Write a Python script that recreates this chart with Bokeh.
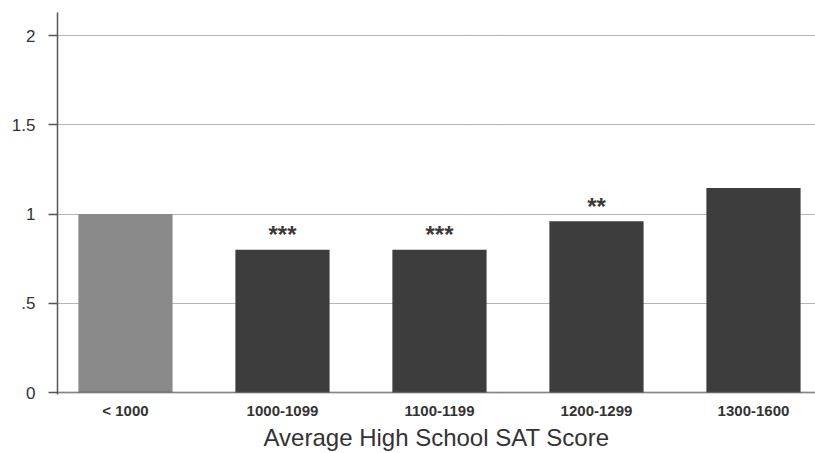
from bokeh.plotting import figure
from bokeh.models import ColumnDataSource, FixedTicker, CustomJSTickFormatter, Span, Range1d
from bokeh.core.properties import value
from bokeh.embed import file_html
from bokeh.resources import INLINE

categories = ["< 1000", "1000-1099", "1100-1199", "1200-1299", "1300-1600"]
values = [1.0, 0.80, 0.80, 0.96, 1.146]
stars = ["", "***", "***", "**", ""]
colors = ["#8a8a8a", "#3d3d3d", "#3d3d3d", "#3d3d3d", "#3d3d3d"]
y_ticks = [0, 0.5, 1, 1.5, 2]

idx = list(range(len(categories)))
src = ColumnDataSource(dict(x=idx, top=values, stars=stars, color=colors))

p = figure(width=815, height=453, output_backend="svg", toolbar_location=None,
           x_range=Range1d(-0.433, 4.395), y_range=Range1d(-0.011, 2.129),
           min_border_left=57, min_border_right=0, min_border_top=12, min_border_bottom=10)
p.outline_line_color = None
p.background_fill_color = "white"

p.vbar(x="x", top="top", bottom=0, width=0.6, fill_color="color", line_color=None, source=src)
p.text(x="x", y="top", text="stars", source=src, text_align="center", text_baseline="alphabetic",
       y_offset=-15, text_font=value("Liberation Sans"), text_font_style="bold",
       text_font_size="24px", text_color="#3a3a3a")

# grid
p.xgrid.grid_line_color = None
p.ygrid.ticker = FixedTicker(ticks=y_ticks)
p.ygrid.grid_line_color = "#6a6a6a"
p.ygrid.grid_line_dash = "1 1"
p.ygrid.grid_line_width = 1

p.add_layout(Span(location=0, dimension="width", line_color="#555555", line_dash="1 1", line_width=2))

# y axis
p.yaxis.ticker = FixedTicker(ticks=y_ticks)
p.yaxis.formatter = CustomJSTickFormatter(code="""
    if (tick == 0) return "0";
    var s = String(tick);
    if (s.startsWith("0.")) s = s.substring(1);
    return s;
""")
p.yaxis.axis_line_color = "#555555"
p.yaxis.axis_line_width = 1.5
p.yaxis.major_tick_line_color = "#555555"
p.yaxis.major_tick_line_width = 1.5
p.yaxis.major_tick_out = 9
p.yaxis.major_tick_in = 0
p.yaxis.minor_tick_line_color = None
p.yaxis.major_label_text_font = "Liberation Sans"
p.yaxis.major_label_text_font_size = "17px"
p.yaxis.major_label_text_color = "#333333"
p.yaxis.major_label_standoff = 13

# x axis
p.xaxis.ticker = FixedTicker(ticks=idx)
p.xaxis.major_label_overrides = {i: c for i, c in zip(idx, categories)}
p.xaxis.axis_line_color = None
p.xaxis.major_tick_line_color = None
p.xaxis.minor_tick_line_color = None
p.xaxis.major_label_text_font = "Liberation Sans"
p.xaxis.major_label_text_font_style = "bold"
p.xaxis.major_label_text_font_size = "15px"
p.xaxis.major_label_text_color = "#333333"
p.xaxis.major_label_standoff = 1
p.xaxis.axis_label = "Average High School SAT Score"
p.xaxis.axis_label_text_font = "Liberation Sans"
p.xaxis.axis_label_text_font_style = "normal"
p.xaxis.axis_label_text_font_size = "24px"
p.xaxis.axis_label_text_color = "#333333"
p.xaxis.axis_label_standoff = 2

open("out.html", "w").write(file_html(p, INLINE))
